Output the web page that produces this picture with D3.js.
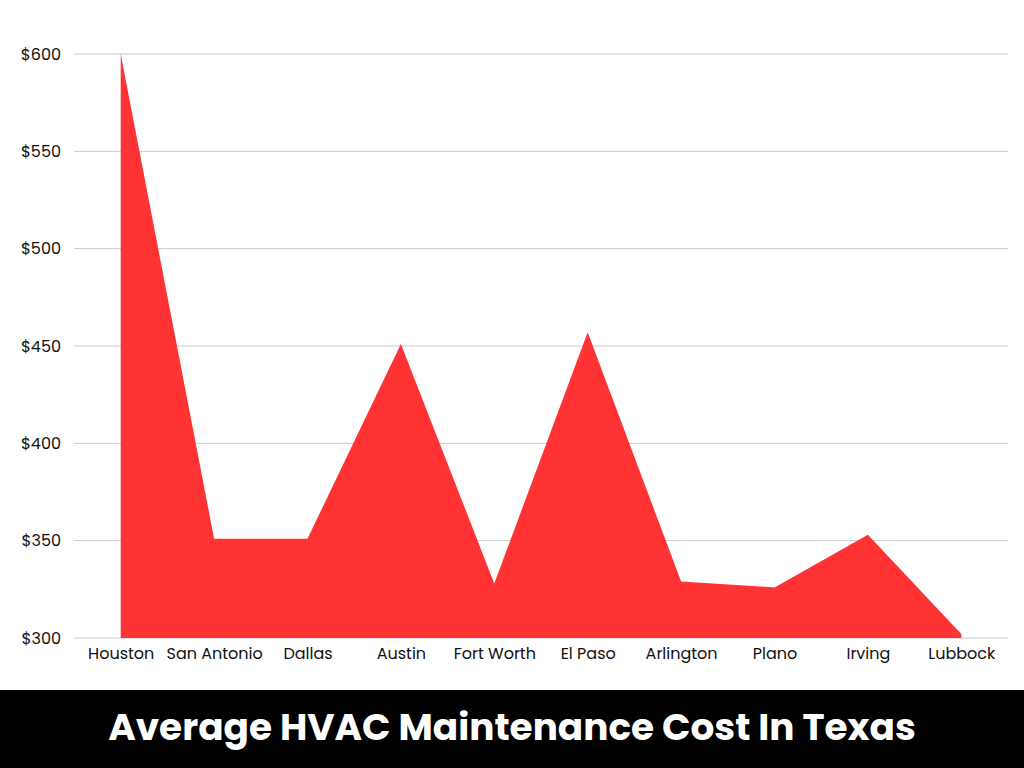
<!DOCTYPE html>
<html>
<head>
<meta charset="utf-8">
<script src="https://cdn.jsdelivr.net/npm/d3@7"></script>
<style>
  body { margin: 0; background: #fff; }
  svg { display: block; }
</style>
</head>
<body>
<svg width="1024" height="768"></svg>
<script>
// data
var cities = ["Houston", "San Antonio", "Dallas", "Austin", "Fort Worth", "El Paso", "Arlington", "Plano", "Irving", "Lubbock"];
var costs = [600, 351, 351, 451, 328, 457, 329, 326, 353, 302];
var yTicks = [300, 350, 400, 450, 500, 550, 600];
var title = "Average HVAC Maintenance Cost In Texas";

var svg = d3.select("svg");
var font = "Poppins, 'Open Sans', sans-serif";

var x = d3.scalePoint().domain(cities).range([74, 1008]).padding(0.5);
var y = d3.scaleLinear().domain([300, 600]).range([638, 54]);

// gridlines
svg.append("g")
  .selectAll("line")
  .data(yTicks)
  .enter().append("line")
  .attr("x1", 74).attr("x2", 1008)
  .attr("y1", function(d) { return y(d); })
  .attr("y2", function(d) { return y(d); })
  .attr("stroke", "#c8c8c8")
  .attr("stroke-width", 1);

// area
var area = d3.area()
  .x(function(d, i) { return x(cities[i]); })
  .y0(y(300))
  .y1(function(d) { return y(d); });

svg.append("path")
  .datum(costs)
  .attr("d", area)
  .attr("fill", "#ff3333");

// y labels
var yAxis = d3.axisLeft(y).tickValues(yTicks).tickSize(0).tickPadding(0)
  .tickFormat(function(d) { return "$" + d; });
var gy = svg.append("g").attr("transform", "translate(61,0)").call(yAxis);
gy.select(".domain").remove();
gy.selectAll("text").attr("font-family", font).attr("font-size", 16).attr("fill", "#111");

// x labels
var xAxis = d3.axisBottom(x).tickSize(0).tickPadding(0);
var gx = svg.append("g").attr("transform", "translate(0,648)").call(xAxis);
gx.select(".domain").remove();
gx.selectAll("text").attr("font-family", font).attr("font-size", 16).attr("fill", "#111");

// title banner
svg.append("rect")
  .attr("x", 0).attr("y", 690)
  .attr("width", 1024).attr("height", 78)
  .attr("fill", "#000");

svg.append("text")
  .attr("x", 512).attr("y", 740)
  .attr("text-anchor", "middle")
  .attr("font-family", font)
  .attr("font-weight", 700)
  .attr("font-size", 37.4)
  .attr("fill", "#fff")
  .text(title);
</script>
</body>
</html>
